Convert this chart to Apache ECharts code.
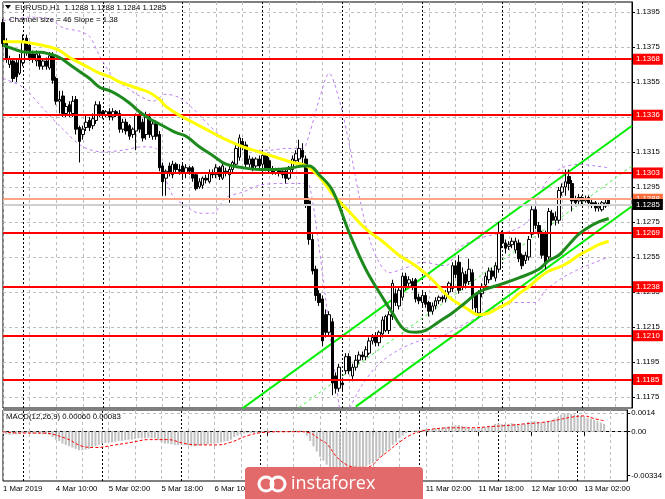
<!DOCTYPE html>
<html><head><meta charset="utf-8">
<script src="https://cdn.jsdelivr.net/npm/echarts@6/dist/echarts.min.js"></script>
<style>html,body{margin:0;padding:0;background:#fff}#c{width:665px;height:499px}</style>
</head><body><div id="c"></div>
<script>
// ---------- categories (H1 bars, weekend skipped) ----------
const dayNames = ['1 Mar','4 Mar','5 Mar','6 Mar','7 Mar','8 Mar','11 Mar','12 Mar','13 Mar'];
const firstHour = 18, lastDayEndHour = 15;
const firstLabel = '1 Mar 2019';
const categories = [];
dayNames.forEach((d, k) => {
  const h0 = k === 0 ? firstHour : 0;
  const h1 = k === dayNames.length - 1 ? lastDayEndHour : 23;
  for (let h = h0; h <= h1; h++) categories.push(d + ' ' + String(h).padStart(2, '0') + ':00');
});
const separatorIdx = categories.map((c, i) => (i > 0 && c.endsWith(' 00:00')) ? i : -1).filter(i => i >= 0);

// ---------- texts ----------
const headerText = 'EURUSD,H1  1.1288 1.1288 1.1284 1.1285';
const channelText = 'Channel size = 46 Slope = 1.38';
const macdText = 'MACD(12,26,9) 0.00060 0.00083';
const watermarkText = 'instaforex';

// ---------- axis ticks ----------
const priceTicks = [1.1175,1.1195,1.1215,1.1235,1.1255,1.1275,1.1295,1.1315,1.1335,1.1355,1.1375,1.1395];
const macdTicks = [0.0014, 0, -0.00334];
const macdTickLabels = ['0.0014', '0.00', '-0.00334'];

// ---------- horizontal levels ----------
const levelLines = [1.1368,1.1336,1.1303,1.1269,1.1238,1.1210,1.1185];
const askPrice = 1.1288, bidPrice = 1.1285;

// ---------- candles [open, close, low, high] ----------
const candles = [
[1.1389,1.1377,1.1375,1.1391],[1.1378,1.1368,1.1366,1.1380],[1.1365,1.1368,1.1363,1.1370],[1.1367,1.1357,1.1355,1.1368],[1.1366,1.1358,1.1355,1.1368],
[1.1360,1.1368,1.1359,1.1371],[1.1366,1.1378,1.1364,1.1382],[1.1380,1.1373,1.1370,1.1382],[1.1376,1.1369,1.1367,1.1378],[1.1371,1.1368,1.1366,1.1373],
[1.1367,1.1371,1.1364,1.1373],[1.1370,1.1364,1.1362,1.1372],[1.1364,1.1367,1.1362,1.1368],[1.1367,1.1364,1.1362,1.1369],[1.1363,1.1370,1.1362,1.1372],
[1.1370,1.1356,1.1354,1.1372],[1.1357,1.1344,1.1342,1.1358],[1.1344,1.1345,1.1337,1.1350],[1.1347,1.1337,1.1335,1.1350],[1.1337,1.1341,1.1335,1.1343],
[1.1342,1.1338,1.1335,1.1344],[1.1337,1.1344,1.1335,1.1347],[1.1345,1.1328,1.1325,1.1347],[1.1329,1.1321,1.1309,1.1330],[1.1325,1.1328,1.1322,1.1330],
[1.1329,1.1332,1.1327,1.1336],[1.1333,1.1329,1.1327,1.1335],[1.1330,1.1334,1.1328,1.1337],[1.1333,1.1342,1.1331,1.1344],[1.1342,1.1337,1.1335,1.1344],
[1.1338,1.1336,1.1334,1.1339],[1.1336,1.1338,1.1335,1.1339],[1.1338,1.1335,1.1333,1.1340],[1.1335,1.1338,1.1333,1.1340],[1.1338,1.1337,1.1335,1.1339],
[1.1337,1.1328,1.1326,1.1339],[1.1328,1.1332,1.1326,1.1334],[1.1332,1.1327,1.1325,1.1334],[1.1330,1.1324,1.1322,1.1331],[1.1325,1.1328,1.1323,1.1329],
[1.1327,1.1336,1.1316,1.1337],[1.1336,1.1328,1.1326,1.1338],[1.1332,1.1323,1.1321,1.1334],[1.1325,1.1336,1.1322,1.1338],[1.1335,1.1325,1.1323,1.1337],
[1.1324,1.1331,1.1322,1.1333],[1.1331,1.1324,1.1322,1.1333],[1.1325,1.1306,1.1304,1.1327],[1.1307,1.1298,1.1290,1.1309],[1.1300,1.1304,1.1290,1.1305],
[1.1307,1.1303,1.1301,1.1309],[1.1302,1.1308,1.1300,1.1310],[1.1308,1.1305,1.1303,1.1309],[1.1305,1.1304,1.1302,1.1308],[1.1307,1.1303,1.1300,1.1309],
[1.1303,1.1306,1.1300,1.1308],[1.1306,1.1304,1.1302,1.1307],[1.1306,1.1300,1.1298,1.1307],[1.1302,1.1294,1.1293,1.1303],[1.1295,1.1298,1.1294,1.1300],
[1.1296,1.1300,1.1294,1.1301],[1.1300,1.1299,1.1297,1.1302],[1.1298,1.1303,1.1297,1.1305],[1.1303,1.1302,1.1300,1.1305],[1.1302,1.1306,1.1300,1.1308],
[1.1306,1.1301,1.1299,1.1307],[1.1300,1.1307,1.1299,1.1309],[1.1304,1.1303,1.1301,1.1306],[1.1302,1.1305,1.1286,1.1307],[1.1305,1.1309,1.1303,1.1310],
[1.1308,1.1317,1.1307,1.1320],[1.1312,1.1323,1.1310,1.1325],[1.1321,1.1318,1.1316,1.1323],[1.1319,1.1308,1.1306,1.1321],[1.1308,1.1311,1.1306,1.1313],
[1.1311,1.1306,1.1304,1.1312],[1.1307,1.1311,1.1305,1.1312],[1.1311,1.1307,1.1305,1.1313],[1.1308,1.1313,1.1306,1.1315],[1.1313,1.1306,1.1304,1.1314],
[1.1310,1.1305,1.1303,1.1312],[1.1305,1.1303,1.1302,1.1307],[1.1303,1.1305,1.1302,1.1306],[1.1305,1.1303,1.1301,1.1306],[1.1304,1.1302,1.1300,1.1306],
[1.1304,1.1300,1.1297,1.1305],[1.1300,1.1305,1.1299,1.1307],[1.1305,1.1311,1.1303,1.1313],[1.1310,1.1314,1.1308,1.1316],[1.1311,1.1317,1.1309,1.1322],
[1.1316,1.1312,1.1308,1.1320],[1.1311,1.1285,1.1283,1.1313],[1.1287,1.1265,1.1262,1.1289],[1.1265,1.1247,1.1245,1.1268],[1.1248,1.1233,1.1230,1.1250],
[1.1234,1.1229,1.1227,1.1236],[1.1231,1.1207,1.1204,1.1233],[1.1222,1.1212,1.1209,1.1225],[1.1212,1.1222,1.1210,1.1224],[1.1218,1.1183,1.1176,1.1220],
[1.1187,1.1180,1.1177,1.1189],[1.1180,1.1192,1.1178,1.1194],[1.1183,1.1182,1.1178,1.1186],[1.1190,1.1198,1.1188,1.1200],[1.1198,1.1190,1.1188,1.1200],
[1.1187,1.1192,1.1184,1.1194],[1.1192,1.1196,1.1190,1.1199],[1.1196,1.1199,1.1194,1.1201],[1.1199,1.1198,1.1196,1.1201],[1.1198,1.1202,1.1196,1.1204],
[1.1200,1.1207,1.1199,1.1209],[1.1207,1.1209,1.1205,1.1211],[1.1210,1.1206,1.1204,1.1212],[1.1206,1.1212,1.1204,1.1213],[1.1211,1.1219,1.1209,1.1221],
[1.1213,1.1221,1.1212,1.1222],[1.1213,1.1222,1.1211,1.1224],[1.1221,1.1240,1.1219,1.1242],[1.1234,1.1229,1.1227,1.1237],[1.1227,1.1236,1.1225,1.1238],
[1.1232,1.1244,1.1230,1.1246],[1.1244,1.1238,1.1236,1.1246],[1.1240,1.1242,1.1238,1.1244],[1.1241,1.1238,1.1236,1.1243],[1.1242,1.1231,1.1229,1.1243],
[1.1232,1.1230,1.1228,1.1234],[1.1229,1.1233,1.1226,1.1235],[1.1233,1.1228,1.1226,1.1235],[1.1229,1.1224,1.1221,1.1230],[1.1224,1.1227,1.1222,1.1229],
[1.1227,1.1230,1.1225,1.1232],[1.1230,1.1232,1.1228,1.1233],[1.1232,1.1231,1.1229,1.1233],[1.1231,1.1234,1.1229,1.1236],[1.1235,1.1240,1.1233,1.1241],
[1.1237,1.1250,1.1235,1.1252],[1.1250,1.1245,1.1243,1.1253],[1.1252,1.1236,1.1234,1.1256],[1.1238,1.1246,1.1236,1.1249],[1.1245,1.1240,1.1237,1.1247],
[1.1241,1.1248,1.1239,1.1254],[1.1246,1.1232,1.1225,1.1248],[1.1233,1.1226,1.1222,1.1234],[1.1223,1.1234,1.1221,1.1236],[1.1234,1.1238,1.1232,1.1240],
[1.1239,1.1244,1.1237,1.1246],[1.1242,1.1247,1.1240,1.1249],[1.1247,1.1244,1.1242,1.1249],[1.1243,1.1250,1.1241,1.1252],[1.1248,1.1269,1.1246,1.1275],
[1.1268,1.1263,1.1260,1.1270],[1.1263,1.1260,1.1257,1.1265],[1.1261,1.1262,1.1259,1.1264],[1.1262,1.1264,1.1260,1.1266],[1.1259,1.1264,1.1257,1.1266],
[1.1263,1.1254,1.1252,1.1265],[1.1256,1.1250,1.1248,1.1257],[1.1253,1.1256,1.1251,1.1258],[1.1255,1.1265,1.1253,1.1267],[1.1268,1.1282,1.1266,1.1284],
[1.1282,1.1273,1.1271,1.1284],[1.1273,1.1269,1.1266,1.1275],[1.1269,1.1256,1.1254,1.1270],[1.1268,1.1251,1.1248,1.1270],[1.1255,1.1281,1.1253,1.1283],
[1.1280,1.1276,1.1273,1.1282],[1.1276,1.1278,1.1273,1.1281],[1.1276,1.1293,1.1274,1.1295],[1.1292,1.1295,1.1290,1.1297],[1.1295,1.1298,1.1290,1.1305],
[1.1301,1.1297,1.1293,1.1305],[1.1297,1.1287,1.1281,1.1299],[1.1288,1.1286,1.1284,1.1290],[1.1287,1.1289,1.1285,1.1291],[1.1289,1.1287,1.1285,1.1290],
[1.1287,1.1288,1.1286,1.1290],[1.1289,1.1286,1.1284,1.1290],[1.1286,1.1285,1.1283,1.1288],[1.1286,1.1283,1.1281,1.1287],[1.1283,1.1284,1.1281,1.1286],
[1.1282,1.1286,1.1281,1.1287],[1.1284,1.1286,1.1283,1.1288],[1.1288,1.1285,1.1284,1.1288]
];

// ---------- moving averages [barIndex, price] ----------
const yellowMA = [[0,1.1378],[5,1.1378],[9,1.1377],[14,1.1375],[17,1.1373],[20,1.1369],[23,1.1366],[26,1.1363],[29,1.1360],[32,1.1358],[35,1.1355],[38,1.1353],[41,1.1351],[44,1.1349],[47,1.1345],[49,1.1341],[53,1.1336],[57,1.1332],[62,1.1327],[67,1.1322],[72,1.1318],[77,1.1315],[82,1.1312],[87,1.1309],[90,1.1308],[92,1.1306],[95,1.1301],[99,1.1291],[104,1.1281],[109,1.1271],[114,1.1264],[119,1.1256],[124,1.1250],[129,1.1242],[134,1.1232],[139,1.1226],[143,1.1222],[146,1.1223],[149,1.1226],[152,1.1229],[155,1.1234],[158,1.1238],[161,1.1243],[164,1.1247],[167,1.1249],[170,1.1252],[173,1.1256],[176,1.1259],[179,1.1262],[182,1.1264]];
const greenMA = [[0,1.1376],[3,1.1374],[7,1.1372],[11,1.1372],[14,1.1371],[17,1.1369],[20,1.1365],[23,1.1361],[26,1.1357],[29,1.1352],[32,1.1350],[35,1.1347],[38,1.1343],[41,1.1338],[44,1.1334],[47,1.1331],[49,1.1329],[52,1.1326],[55,1.1324],[59,1.1318],[63,1.1313],[67,1.1308],[72,1.1306],[77,1.1305],[82,1.1305],[87,1.1306],[90,1.1307],[92,1.1307],[95,1.1302],[99,1.1293],[104,1.1269],[109,1.1248],[114,1.1232],[117,1.1223],[121,1.1213],[124,1.1212],[127,1.1213],[131,1.1218],[135,1.1223],[139,1.1229],[143,1.1235],[149,1.1239],[155,1.1243],[161,1.1248],[164,1.1253],[167,1.1256],[170,1.1262],[173,1.1268],[176,1.1272],[179,1.1275],[182,1.1277]];

// ---------- purple bands [barIndex, price] ----------
const upperBand = [[0,1.1390],[8,1.1392],[14,1.1391],[18,1.1386],[23,1.1384],[26,1.1381],[29,1.1370],[33,1.1358],[37,1.1352],[41,1.1347],[45,1.1344],[49,1.1348],[53,1.1346],[57,1.1340],[61,1.1332],[65,1.1325],[70,1.1319],[75,1.1316],[80,1.1316],[85,1.1317],[90,1.1317],[92,1.1325],[95,1.1345],[98,1.1360],[101,1.1345],[104,1.1320],[107,1.1290],[110,1.1266],[113,1.1252],[116,1.1246],[120,1.1248],[126,1.1252],[133,1.1250],[137,1.1260],[142,1.1265],[148,1.1268],[153,1.1270],[158,1.1276],[161,1.1290],[164,1.1300],[168,1.1306],[173,1.1308],[178,1.1307],[182,1.1306]];
const lowerBand = [[0,1.1357],[6,1.1352],[12,1.1340],[18,1.1328],[24,1.1318],[30,1.1315],[36,1.1316],[42,1.1318],[46,1.1317],[48,1.1305],[51,1.1290],[55,1.1284],[59,1.1280],[63,1.1280],[67,1.1289],[72,1.1292],[77,1.1296],[84,1.1297],[90,1.1297],[92,1.1296],[95,1.1260],[98,1.1215],[101,1.1170],[102,1.1160],[104,1.1168],[108,1.1182],[113,1.1194],[119,1.1202],[125,1.1207],[131,1.1209],[137,1.1215],[143,1.1221],[148,1.1226],[153,1.1229],[160,1.1229],[163,1.1236],[168,1.1243],[173,1.1248],[178,1.1252],[182,1.1255]];

// ---------- regression channel end points [barIndex, price] ----------
const channelUpper = [[72,1.11685],[189,1.1330]];
const channelMiddle = [[89,1.1169],[189,1.1307]];
const channelLower = [[106,1.11695],[189,1.1284]];

// ---------- MACD ----------
const macdHist = [
-0.0002,-0.0002,-0.00025,-0.0002,-0.0002,-0.00015,-0.0001,-0.0001,-0.00012,-0.00015,
-0.00015,-0.00018,-0.0002,-0.0002,-0.00022,-0.0004,-0.0006,-0.0007,-0.0009,-0.001,
-0.0011,-0.0012,-0.0013,-0.0014,-0.0014,-0.00135,-0.0013,-0.0012,-0.0011,-0.001,
-0.0009,-0.00085,-0.0008,-0.0008,-0.00075,-0.0007,-0.0007,-0.00065,-0.0006,-0.0006,
-0.00055,-0.0005,-0.0005,-0.0005,-0.00045,-0.0005,-0.0005,-0.0006,-0.0008,-0.0009,
-0.0009,-0.00095,-0.001,-0.001,-0.001,-0.001,-0.00105,-0.0011,-0.0011,-0.00105,
-0.001,-0.001,-0.00095,-0.0009,-0.0009,-0.00085,-0.0008,-0.00075,-0.0007,-0.0006,
-0.0004,-0.0003,-0.0002,-0.00015,-0.0001,-0.0001,-0.0001,-0.00008,-0.00005,-0.00005,
-0.00003,0,0.00002,0.00003,0.00002,0,-0.00002,0.00002,0.00005,0.00008,
0.0001,0.00005,-0.0003,-0.0007,-0.0011,-0.0015,-0.0019,-0.0022,-0.0025,-0.0029,
-0.0032,-0.00334,-0.0033,-0.0032,-0.0031,-0.003,-0.0029,-0.0028,-0.0028,-0.0027,
-0.0026,-0.0025,-0.0024,-0.0022,-0.002,-0.0018,-0.0015,-0.0013,-0.001,-0.0008,
-0.0005,-0.0003,-0.0001,0,0.00005,0.0001,0.00012,0.00015,0.0002,0.0002,
0.00022,0.00025,0.00025,0.0003,0.00035,0.0004,0.00045,0.0005,0.0005,0.00045,
0.0004,0.0003,0.00025,0.00025,0.0003,0.0003,0.00035,0.0004,0.00045,0.0006,
0.00065,0.0006,0.0006,0.0006,0.00065,0.0006,0.00055,0.00055,0.0006,0.00075,
0.0008,0.0008,0.00075,0.0007,0.00075,0.0008,0.00085,0.001,0.0011,0.0013,
0.0014,0.0014,0.00135,0.0013,0.00125,0.0012,0.0011,0.00105,0.001,0.0009,
0.0008,0.0007,0.0006
];
const macdSignal = [[0,0],[5,-0.0001],[12,-0.0001],[19,-0.0005],[24,-0.0011],[28,-0.0012],[34,-0.001],[39,-0.0008],[44,-0.0006],[50,-0.0006],[55,-0.0009],[60,-0.001],[65,-0.001],[69,-0.0008],[74,-0.0003],[79,-0.00005],[85,0],[90,0],[93,-0.0001],[96,-0.0006],[98,-0.0009],[101,-0.0019],[104,-0.0025],[107,-0.0027],[110,-0.0027],[112,-0.0025],[114,-0.002],[117,-0.0014],[120,-0.0008],[123,-0.0003],[126,0],[130,0.0002],[136,0.0003],[142,0.0003],[148,0.0004],[154,0.0005],[158,0.0006],[163,0.0007],[168,0.0009],[172,0.0011],[176,0.0012],[179,0.001],[182,0.00083]];

// ---------- chart ----------
const FONT = 'Liberation Sans';
const FS = 7.8;
const gridGray = {color: '#bdbdbd', type: [3, 3], width: 1};
const vGrid = i => i % 8 === 0;
const labelEvery = i => i % 16 === 0;

function tagLabel(v, bg) {
  return {show: true, position: 'end', distance: 1, formatter: v.toFixed(4), backgroundColor: bg,
    color: '#fff', padding: [1, 3, 1, 3], fontSize: FS, fontFamily: FONT, lineHeight: 9};
}

const chart = echarts.init(document.getElementById('c'), null, {renderer: 'canvas'});
chart.setOption({
  animation: false,
  backgroundColor: '#fff',
  grid: [
    {left: 3, right: 33, top: 2, height: 406, show: true, borderColor: '#000', borderWidth: 1},
    {left: 3, right: 33, top: 410, height: 71, show: true, borderColor: '#000', borderWidth: 1}
  ],
  xAxis: [
    {type: 'category', gridIndex: 0, data: categories, boundaryGap: false,
     axisLine: {show: false}, axisTick: {show: false}, axisLabel: {show: false},
     splitLine: {show: true, interval: vGrid, lineStyle: gridGray}},
    {type: 'category', gridIndex: 1, data: categories, boundaryGap: false,
     axisLine: {show: true, lineStyle: {color: '#000'}},
     axisTick: {show: true, interval: labelEvery, length: 4, lineStyle: {color: '#000'}},
     axisLabel: {show: true, interval: labelEvery, formatter: (v, i) => i === 0 ? firstLabel : v,
       align: 'left', margin: 4, fontSize: FS, fontFamily: FONT, color: '#000'},
     splitLine: {show: true, interval: vGrid, lineStyle: gridGray}}
  ],
  yAxis: [
    {type: 'value', gridIndex: 0, position: 'right', min: 1.11687, max: 1.14007,
     axisLine: {show: true, lineStyle: {color: '#000'}},
     axisTick: {show: true, customValues: priceTicks, length: 3, lineStyle: {color: '#000'}},
     axisLabel: {show: true, customValues: priceTicks, formatter: v => v.toFixed(4),
       margin: 4, fontSize: FS, fontFamily: FONT, color: '#000'},
     splitLine: {show: false}},
    {type: 'value', gridIndex: 1, position: 'right', min: -0.00374, max: 0.00165,
     axisLine: {show: true, lineStyle: {color: '#000'}},
     axisTick: {show: true, customValues: macdTicks, length: 3, lineStyle: {color: '#000'}},
     axisLabel: {show: true, customValues: macdTicks,
       formatter: v => { let k = 0, best = 1; macdTicks.forEach((t, j) => { const d = Math.abs(t - v); if (d < best) { best = d; k = j; } }); return macdTickLabels[k]; },
       margin: 4, fontSize: FS, fontFamily: FONT, color: '#000'},
     splitLine: {show: false}}
  ],
  series: [
    // horizontal price grid
    {type: 'line', data: [], xAxisIndex: 0, yAxisIndex: 0, symbol: 'none', z: 1,
     markLine: {silent: true, precision: 6, symbol: ['none', 'none'], z: 1, label: {show: false},
       data: priceTicks.map(v => ({yAxis: v, lineStyle: gridGray}))}},
    // purple bands
    {type: 'line', name: 'upper', data: upperBand, xAxisIndex: 0, yAxisIndex: 0, symbol: 'none', smooth: 0.3, z: 2,
     lineStyle: {color: '#c080f0', width: 1, type: [3, 3]}},
    {type: 'line', name: 'lower', data: lowerBand, xAxisIndex: 0, yAxisIndex: 0, symbol: 'none', smooth: 0.3, z: 2,
     lineStyle: {color: '#c080f0', width: 1, type: [3, 3]}},
    // channel
    {type: 'line', data: channelUpper, symbol: 'none', z: 2, lineStyle: {color: '#00ee00', width: 2}},
    {type: 'line', data: channelMiddle, symbol: 'none', z: 2, lineStyle: {color: '#44ee44', width: 1, type: [3, 3]}},
    {type: 'line', data: channelLower, symbol: 'none', z: 2, lineStyle: {color: '#00ee00', width: 2}},
    // candles
    {type: 'candlestick', data: candles, xAxisIndex: 0, yAxisIndex: 0, barWidth: 3, z: 3,
     itemStyle: {color: '#ffffff', color0: '#000000', borderColor: '#000000', borderColor0: '#000000', borderWidth: 1},
     markLine: {silent: true, precision: 6, symbol: ['none', 'none'], z: 1, label: {show: false},
       data: separatorIdx.map(i => ({xAxis: i, lineStyle: {color: '#000', type: [2, 2], width: 1}}))}},
    // level lines
    {type: 'line', data: [], xAxisIndex: 0, yAxisIndex: 0, symbol: 'none', z: 4,
     markLine: {silent: true, precision: 6, symbol: ['none', 'none'], z: 4,
       data: [
         ...levelLines.map(v => ({yAxis: v, lineStyle: {color: '#ff0000', width: 2, type: 'solid'}, label: tagLabel(v, '#ff0000')})),
         {yAxis: askPrice, lineStyle: {color: '#ffa585', width: 2, type: 'solid'}, label: tagLabel(askPrice, '#ff7040')},
         {yAxis: bidPrice, lineStyle: {color: '#d0d0d0', width: 2, type: 'solid'}, label: tagLabel(bidPrice, '#000000')}
       ]}},
    // moving averages
    {type: 'line', data: yellowMA, symbol: 'none', smooth: 0.4, z: 5, lineStyle: {color: '#ffff00', width: 3}},
    {type: 'line', data: greenMA, symbol: 'none', smooth: 0.4, z: 5, lineStyle: {color: '#1e8a1e', width: 3}},
    // MACD
    {type: 'bar', data: macdHist, xAxisIndex: 1, yAxisIndex: 1, barWidth: 2, z: 2,
     itemStyle: {color: '#c0c0c0'},
     markLine: {silent: true, precision: 8, symbol: ['none', 'none'], z: 1, label: {show: false},
       data: [
         ...separatorIdx.map(i => ({xAxis: i, lineStyle: {color: '#000', type: [2, 2], width: 1}})),
         {yAxis: 0.0014, lineStyle: gridGray}, {yAxis: 0, lineStyle: gridGray}
       ]}},
    {type: 'line', data: macdSignal, xAxisIndex: 1, yAxisIndex: 1, symbol: 'none', smooth: 0.4, z: 3,
     lineStyle: {color: '#ff0000', width: 1, type: [3, 2]}}
  ],
  graphic: [
    {type: 'polygon', shape: {points: [[5, 5], [11, 5], [8, 9]]}, style: {fill: '#000'}, z: 50},
    {type: 'text', x: 15, y: 7.5, style: {text: headerText, font: FS + 'px "' + FONT + '"', fill: '#000', verticalAlign: 'middle'}, z: 50},
    {type: 'text', x: 9, y: 19.5, style: {text: channelText, font: FS + 'px "' + FONT + '"', fill: '#000', verticalAlign: 'middle'}, z: 50},
    {type: 'text', x: 6, y: 417, style: {text: macdText, font: FS + 'px "' + FONT + '"', fill: '#000', verticalAlign: 'middle'}, z: 50},
    {type: 'rect', shape: {x: 245, y: 467, width: 178, height: 40, r: 4}, style: {fill: '#e36a6a'}, z: 100},
    {type: 'circle', shape: {cx: 266, cy: 484, r: 7}, style: {fill: 'none', stroke: '#fff', lineWidth: 3}, z: 101},
    {type: 'circle', shape: {cx: 278, cy: 484, r: 7}, style: {fill: 'none', stroke: '#fff', lineWidth: 3}, z: 101},
    {type: 'text', x: 291, y: 484, style: {text: watermarkText, font: '18px "Open Sans"', fill: '#fff', verticalAlign: 'middle'}, z: 101}
  ]
});
</script></body></html>
